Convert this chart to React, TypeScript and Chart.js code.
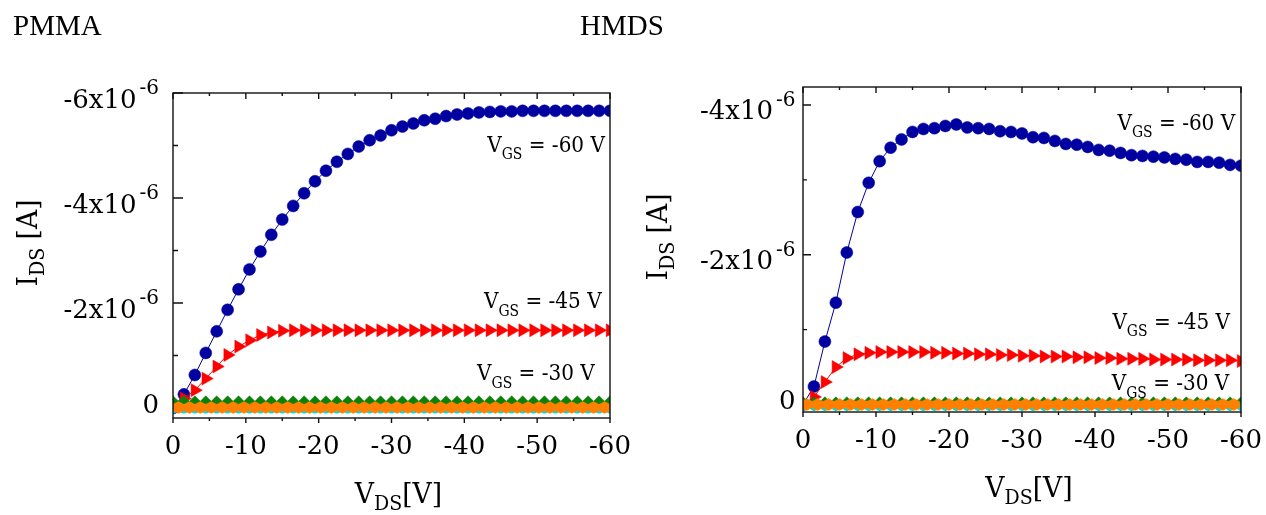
import React, { useEffect, useRef } from "react";
import { Chart, registerables } from "chart.js";

Chart.register(...registerables);

// ---------------- data (V_DS in volts, currents in units of 1e-6 A) ----------------
const VDS = [
  0, -1.5, -3, -4.5, -6, -7.5, -9, -10.5, -12, -13.5, -15, -16.5, -18, -19.5, -21, -22.5,
  -24, -25.5, -27, -28.5, -30, -31.5, -33, -34.5, -36, -37.5, -39, -40.5, -42, -43.5, -45,
  -46.5, -48, -49.5, -51, -52.5, -54, -55.5, -57, -58.5, -60,
];
const VDS_ORANGE_PMMA = [
  -0.75, -2.25, -3.75, -5.25, -6.75, -8.25, -9.75, -11.25, -12.75, -14.25, -15.75, -17.25,
  -18.75, -20.25, -21.75, -23.25, -24.75, -26.25, -27.75, -29.25, -30.75, -32.25, -33.75,
  -35.25, -36.75, -38.25, -39.75, -41.25, -42.75, -44.25, -45.75, -47.25, -48.75, -50.25,
  -51.75, -53.25, -54.75, -56.25, -57.75, -59.25,
];
const VDS_ORANGE_HMDS = [
  -0.5, -2, -3.5, -5, -6.5, -8, -9.5, -11, -12.5, -14, -15.5, -17, -18.5, -20, -21.5, -23,
  -24.5, -26, -27.5, -29, -30.5, -32, -33.5, -35, -36.5, -38, -39.5, -41, -42.5, -44, -45.5,
  -47, -48.5, -50, -51.5, -53, -54.5, -56, -57.5, -59,
];

const PMMA_VGS60 = [
  0, -0.26, -0.63, -1.05, -1.46, -1.87, -2.26, -2.64, -2.98, -3.3, -3.59, -3.85, -4.09, -4.32,
  -4.52, -4.69, -4.84, -4.98, -5.1, -5.19, -5.29, -5.36, -5.42, -5.48, -5.51, -5.56, -5.59,
  -5.61, -5.63, -5.64, -5.65, -5.65, -5.66, -5.66, -5.66, -5.66, -5.66, -5.66, -5.66, -5.66,
  -5.66,
];
const PMMA_VGS45 = [
  0, -0.18, -0.34, -0.56, -0.79, -1.01, -1.17, -1.29, -1.39, -1.44, -1.47, -1.48, -1.48, -1.48,
  -1.48, -1.48, -1.48, -1.48, -1.48, -1.48, -1.48, -1.48, -1.48, -1.48, -1.48, -1.48, -1.48,
  -1.48, -1.48, -1.48, -1.48, -1.48, -1.48, -1.48, -1.48, -1.48, -1.48, -1.48, -1.48, -1.48,
  -1.48,
];
const PMMA_VGS30 = [
  -0.1, -0.1, -0.1, -0.1, -0.1, -0.1, -0.1, -0.1, -0.1, -0.1, -0.1, -0.1, -0.1, -0.1, -0.1,
  -0.1, -0.1, -0.1, -0.1, -0.1, -0.1, -0.1, -0.1, -0.1, -0.1, -0.1, -0.1, -0.1, -0.1, -0.1,
  -0.1, -0.1, -0.1, -0.1, -0.1, -0.1, -0.1, -0.1, -0.1, -0.1, -0.1,
];
const PMMA_VGS15 = [
  0.03, 0.03, 0.03, 0.03, 0.03, 0.03, 0.03, 0.03, 0.03, 0.03, 0.03, 0.03, 0.03, 0.03, 0.03,
  0.03, 0.03, 0.03, 0.03, 0.03, 0.03, 0.03, 0.03, 0.03, 0.03, 0.03, 0.03, 0.03, 0.03, 0.03,
  0.03, 0.03, 0.03, 0.03, 0.03, 0.03, 0.03, 0.03, 0.03, 0.03, 0.03,
];
const PMMA_VGS0 = [
  -0.01, -0.01, -0.01, -0.01, -0.01, -0.01, -0.01, -0.01, -0.01, -0.01, -0.01, -0.01, -0.01,
  -0.01, -0.01, -0.01, -0.01, -0.01, -0.01, -0.01, -0.01, -0.01, -0.01, -0.01, -0.01, -0.01,
  -0.01, -0.01, -0.01, -0.01, -0.01, -0.01, -0.01, -0.01, -0.01, -0.01, -0.01, -0.01, -0.01,
  -0.01,
];

const HMDS_VGS60 = [
  0, -0.24, -0.84, -1.36, -2.03, -2.57, -2.96, -3.25, -3.43, -3.54, -3.64, -3.68, -3.69, -3.72,
  -3.74, -3.7, -3.69, -3.68, -3.65, -3.64, -3.62, -3.57, -3.56, -3.52, -3.48, -3.47, -3.44,
  -3.4, -3.39, -3.36, -3.33, -3.32, -3.31, -3.3, -3.28, -3.27, -3.24, -3.24, -3.23, -3.2, -3.19,
];
const HMDS_VGS45 = [
  0, -0.1, -0.3, -0.5, -0.62, -0.67, -0.69, -0.7, -0.7, -0.7, -0.7, -0.7, -0.69, -0.69, -0.68,
  -0.68, -0.67, -0.67, -0.66, -0.66, -0.65, -0.65, -0.64, -0.64, -0.64, -0.63, -0.63, -0.62,
  -0.62, -0.61, -0.61, -0.61, -0.6, -0.6, -0.6, -0.6, -0.59, -0.59, -0.59, -0.59, -0.58,
];
const HMDS_VGS30 = [
  -0.01, -0.01, -0.01, -0.01, -0.01, -0.01, -0.01, -0.01, -0.01, -0.01, -0.01, -0.01, -0.01,
  -0.01, -0.01, -0.01, -0.01, -0.01, -0.01, -0.01, -0.01, -0.01, -0.01, -0.01, -0.01, -0.01,
  -0.01, -0.01, -0.01, -0.01, -0.01, -0.01, -0.01, -0.01, -0.01, -0.01, -0.01, -0.01, -0.01,
  -0.01, -0.01,
];
const HMDS_VGS15 = [
  0.03, 0.03, 0.03, 0.03, 0.03, 0.03, 0.03, 0.03, 0.03, 0.03, 0.03, 0.03, 0.03, 0.03, 0.03,
  0.03, 0.03, 0.03, 0.03, 0.03, 0.03, 0.03, 0.03, 0.03, 0.03, 0.03, 0.03, 0.03, 0.03, 0.03,
  0.03, 0.03, 0.03, 0.03, 0.03, 0.03, 0.03, 0.03, 0.03, 0.03, 0.03,
];
const HMDS_VGS0 = [
  0, 0, 0, 0, 0, 0, 0, 0, 0, 0, 0, 0, 0, 0, 0, 0, 0, 0, 0, 0, 0, 0, 0, 0, 0, 0, 0, 0, 0, 0, 0,
  0, 0, 0, 0, 0, 0, 0, 0, 0,
];

// ticks
const X_MAJOR = [0, -10, -20, -30, -40, -50, -60];
const X_MINOR = [-5, -15, -25, -35, -45, -55];
const PMMA_Y_MAJOR = [-6, -4, -2, 0];
const PMMA_Y_MINOR = [-5, -3, -1];
const HMDS_Y_MAJOR = [-4, -2, 0];
const HMDS_Y_MINOR = [-3, -1];
const Y_EXP = "-6";
const GATE_LABELS = ["-60", "-45", "-30"];
const PANEL_TITLES = ["PMMA", "HMDS"];

// ---------------- styling ----------------
const BLUE = "#0000a0";
const RED = "#ff0000";
const GREEN = "#0a820a";
const CYAN = "#00dcdc";
const ORANGE = "#ff8000";
const FONT = '"DejaVu Serif", serif';
const fnt = (s: number) => `${s}px ${FONT}`;

type Part = { t: string; size: number; dy?: number; gap?: number };

function partsWidth(ctx: CanvasRenderingContext2D, parts: Part[], sx: number) {
  let w = 0;
  for (const p of parts) {
    ctx.font = fnt(p.size);
    w += (p.gap || 0) + ctx.measureText(p.t).width * sx;
  }
  return w;
}

function drawParts(
  ctx: CanvasRenderingContext2D,
  parts: Part[],
  x: number,
  y: number,
  align: "left" | "center" | "right",
  sx = 1
) {
  const w = partsWidth(ctx, parts, sx);
  let cx = align === "left" ? x : align === "center" ? x - w / 2 : x - w;
  ctx.textAlign = "left";
  ctx.textBaseline = "alphabetic";
  for (const p of parts) {
    cx += p.gap || 0;
    ctx.font = fnt(p.size);
    ctx.save();
    ctx.translate(cx, y + (p.dy || 0));
    ctx.scale(sx, 1);
    ctx.fillText(p.t, 0, 0);
    ctx.restore();
    cx += ctx.measureText(p.t).width * sx;
  }
}

interface Ann {
  label: string;
  x: number;
  y: number;
}

interface PanelCfg {
  pad: { left: number; right: number; top: number; bottom: number };
  yMin: number;
  yMax: number;
  yMajor: number[];
  yMinor: number[];
  leftTick: [number, number];
  labelGap: number;
  series: { xs: number[]; ys: number[]; kind: string }[];
  ann: Ann[];
}

function makeHexagon(color: string): HTMLCanvasElement {
  const c = document.createElement("canvas");
  c.width = 13;
  c.height = 13;
  const g = c.getContext("2d")!;
  g.fillStyle = color;
  g.beginPath();
  g.moveTo(6.5, 0.2);
  g.lineTo(12.6, 3.5);
  g.lineTo(12.6, 9.5);
  g.lineTo(6.5, 12.8);
  g.lineTo(0.4, 9.5);
  g.lineTo(0.4, 3.5);
  g.closePath();
  g.fill();
  return c;
}

function framePlugin(cfg: PanelCfg) {
  return {
    id: "originFrame",
    beforeDatasetsDraw(chart: any) {
      // inward ticks sit underneath the data markers
      const ctx: CanvasRenderingContext2D = chart.ctx;
      const { left, top, bottom } = chart.chartArea;
      const xs = chart.scales.x;
      const ys = chart.scales.y;
      ctx.save();
      ctx.strokeStyle = "#111";
      ctx.lineWidth = 1.4;
      ctx.beginPath();
      for (const v of X_MAJOR) {
        const px = xs.getPixelForValue(v);
        ctx.moveTo(px, top);
        ctx.lineTo(px, top + 6);
        ctx.moveTo(px, bottom);
        ctx.lineTo(px, bottom + 5);
      }
      for (const v of X_MINOR) {
        const px = xs.getPixelForValue(v);
        ctx.moveTo(px, top);
        ctx.lineTo(px, top + 3);
        ctx.moveTo(px, bottom);
        ctx.lineTo(px, bottom + 3);
      }
      for (const v of cfg.yMajor) {
        const py = ys.getPixelForValue(v * 1e-6);
        ctx.moveTo(left, py);
        ctx.lineTo(left + cfg.leftTick[0], py);
      }
      for (const v of cfg.yMinor) {
        const py = ys.getPixelForValue(v * 1e-6);
        ctx.moveTo(left, py);
        ctx.lineTo(left + cfg.leftTick[1], py);
      }
      ctx.stroke();
      ctx.restore();
    },
    afterDatasetsDraw(chart: any) {
      const ctx: CanvasRenderingContext2D = chart.ctx;
      const { left, right, top, bottom } = chart.chartArea;
      const xs = chart.scales.x;
      const ys = chart.scales.y;
      ctx.save();
      ctx.strokeStyle = "#111";
      ctx.lineWidth = 1.4;
      ctx.strokeRect(left, top, right - left, bottom - top);

      ctx.fillStyle = "#000";
      for (const v of X_MAJOR) {
        drawParts(ctx, [{ t: String(v), size: 26 }], xs.getPixelForValue(v), bottom + 35.7, "center");
      }
      for (const v of cfg.yMajor) {
        const py = ys.getPixelForValue(v * 1e-6);
        if (v === 0) {
          drawParts(ctx, [{ t: "0", size: 26 }], left - cfg.labelGap, py + 4.5, "right");
        } else {
          drawParts(
            ctx,
            [
              { t: `${v}x10`, size: 26 },
              { t: Y_EXP, size: 20, dy: -13.2, gap: 3 },
            ],
            left - cfg.labelGap,
            py + 14.5,
            "right"
          );
        }
      }
      drawParts(
        ctx,
        [
          { t: "V", size: 28 },
          { t: "DS", size: 20, dy: 7 },
          { t: "[V]", size: 28 },
        ],
        (left + right) / 2 + 7,
        bottom + 85,
        "center",
        0.95
      );
      ctx.save();
      ctx.translate(left - 136, top + 150);
      ctx.rotate(-Math.PI / 2);
      drawParts(
        ctx,
        [
          { t: "I", size: 28 },
          { t: "DS", size: 20, dy: 7 },
          { t: " [A]", size: 28 },
        ],
        0,
        0,
        "center",
        0.95
      );
      ctx.restore();
      for (const a of cfg.ann) {
        drawParts(
          ctx,
          [
            { t: "V", size: 23 },
            { t: "GS", size: 16, dy: 7.5 },
            { t: ` = ${a.label} V`, size: 23 },
          ],
          xs.getPixelForValue(a.x),
          ys.getPixelForValue(a.y * 1e-6),
          "right",
          0.87
        );
      }
      ctx.restore();
    },
  };
}

function buildDataset(s: { xs: number[]; ys: number[]; kind: string }, hex: HTMLCanvasElement) {
  const data = s.xs.map((x, i) => ({ x, y: s.ys[i] * 1e-6 }));
  const base = { data, showLine: true, borderWidth: 1, clip: 0, tension: 0 } as any;
  switch (s.kind) {
    case "blue":
      return { ...base, borderColor: BLUE, backgroundColor: BLUE, pointStyle: "circle", radius: 6, pointRadius: 6, pointBorderWidth: 0.5, pointBorderColor: BLUE, pointBackgroundColor: BLUE, order: 4 };
    case "red":
      return { ...base, borderColor: RED, backgroundColor: RED, pointStyle: "triangle", pointRotation: 90, radius: 7.5, pointRadius: 7.5, pointBorderWidth: 0.5, pointBorderColor: RED, pointBackgroundColor: RED, order: 3 };
    case "green":
      return { ...base, borderColor: GREEN, backgroundColor: GREEN, pointStyle: "rectRot", radius: 7, pointRadius: 7, pointBorderWidth: 0.5, pointBorderColor: GREEN, pointBackgroundColor: GREEN, order: 2 };
    case "cyan":
      return { ...base, showLine: false, borderColor: CYAN, backgroundColor: CYAN, pointStyle: "circle", radius: 4, pointRadius: 4, pointBorderWidth: 0, pointBackgroundColor: CYAN, order: 1 };
    default:
      return { ...base, borderColor: ORANGE, backgroundColor: ORANGE, pointStyle: hex, radius: 6, pointRadius: 6, pointBorderWidth: 0, order: 0 };
  }
}

const PMMA_CFG: PanelCfg = {
  pad: { left: 173, right: 23, top: 93, bottom: 97 },
  yMin: -6e-6,
  yMax: 0.19e-6,
  yMajor: PMMA_Y_MAJOR,
  yMinor: PMMA_Y_MINOR,
  leftTick: [10, 5],
  labelGap: 14,
  series: [
    { xs: VDS, ys: PMMA_VGS60, kind: "blue" },
    { xs: VDS, ys: PMMA_VGS45, kind: "red" },
    { xs: VDS, ys: PMMA_VGS30, kind: "green" },
    { xs: VDS, ys: PMMA_VGS15, kind: "cyan" },
    { xs: VDS_ORANGE_PMMA, ys: PMMA_VGS0, kind: "orange" },
  ],
  ann: [
    { label: GATE_LABELS[0], x: -59.3, y: -4.88 },
    { label: GATE_LABELS[1], x: -58.85, y: -1.9 },
    { label: GATE_LABELS[2], x: -57.9, y: -0.53 },
  ],
};

const HMDS_CFG: PanelCfg = {
  pad: { left: 170, right: 25, top: 87, bottom: 103 },
  yMin: -4.24e-6,
  yMax: 0.1e-6,
  yMajor: HMDS_Y_MAJOR,
  yMinor: HMDS_Y_MINOR,
  leftTick: [8, 4],
  labelGap: 7.5,
  series: [
    { xs: VDS, ys: HMDS_VGS60, kind: "blue" },
    { xs: VDS, ys: HMDS_VGS45, kind: "red" },
    { xs: VDS, ys: HMDS_VGS30, kind: "green" },
    { xs: VDS, ys: HMDS_VGS15, kind: "cyan" },
    { xs: VDS_ORANGE_HMDS, ys: HMDS_VGS0, kind: "orange" },
  ],
  ann: [
    { label: GATE_LABELS[0], x: -59.2, y: -3.67 },
    { label: GATE_LABELS[1], x: -58.5, y: -1.01 },
    { label: GATE_LABELS[2], x: -58.4, y: -0.19 },
  ],
};

function Panel({ cfg, left }: { cfg: PanelCfg; left: number }) {
  const ref = useRef<HTMLCanvasElement>(null);
  useEffect(() => {
    const hex = makeHexagon(ORANGE);
    const chart = new Chart(ref.current!, {
      type: "scatter",
      data: { datasets: cfg.series.map((s) => buildDataset(s, hex)) },
      options: {
        responsive: false,
        animation: false,
        events: [],
        layout: { padding: cfg.pad },
        plugins: { legend: { display: false }, tooltip: { enabled: false } },
        scales: {
          x: { type: "linear", min: -60, max: 0, reverse: true, display: false },
          y: { type: "linear", min: cfg.yMin, max: cfg.yMax, reverse: true, display: false },
        },
      },
      plugins: [framePlugin(cfg)],
    } as any);
    return () => chart.destroy();
  }, []);
  return (
    <canvas
      ref={ref}
      width={633}
      height={515}
      style={{ position: "absolute", left, top: 0, width: 633, height: 515 }}
    />
  );
}

const titleStyle: React.CSSProperties = {
  position: "absolute",
  top: 10.7,
  font: '29px "Liberation Serif", serif',
  lineHeight: "29px",
  color: "#000",
  whiteSpace: "nowrap",
};

export default function App() {
  return (
    <div
      style={{
        position: "absolute",
        left: 0,
        top: 0,
        width: 1266,
        height: 515,
        background: "#fff",
        overflow: "hidden",
      }}
    >
      <Panel cfg={PMMA_CFG} left={0} />
      <Panel cfg={HMDS_CFG} left={633} />
      <div style={{ ...titleStyle, left: 13 }}>{PANEL_TITLES[0]}</div>
      <div style={{ ...titleStyle, left: 580 }}>{PANEL_TITLES[1]}</div>
    </div>
  );
}
